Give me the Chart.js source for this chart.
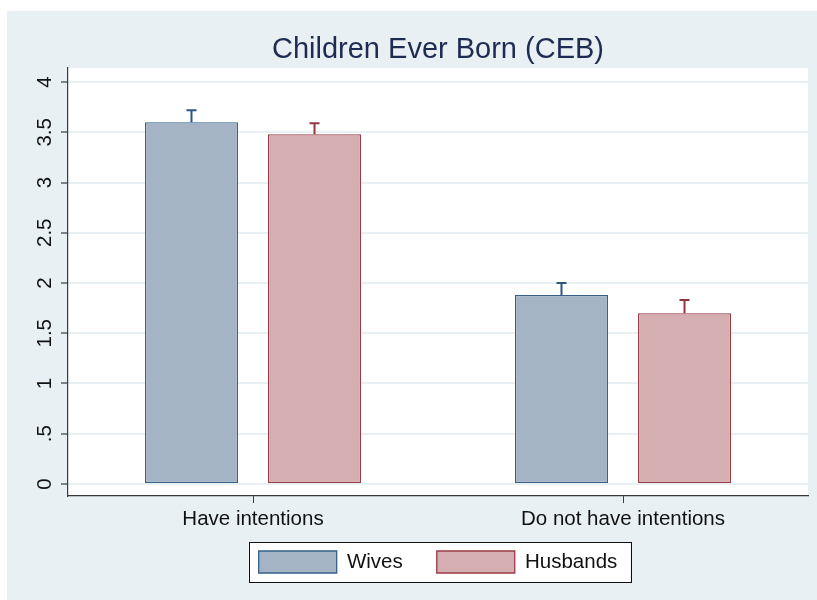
<!DOCTYPE html>
<html>
<head>
<meta charset="utf-8">
<title>Children Ever Born (CEB)</title>
<script src="https://cdn.jsdelivr.net/npm/chart.js@4/dist/chart.umd.min.js"></script>
<style>
  html, body { margin: 0; padding: 0; background: #ffffff; overflow: hidden; }
  #panel { position: absolute; left: 7px; top: 11px; width: 810px; height: 589px; background: #e9f0f3; }
  #chart { display: block; }
</style>
</head>
<body>
<div id="panel"><canvas id="chart" width="810" height="589"></canvas></div>
<script>
// Categories and series
const categories = ['Have intentions', 'Do not have intentions'];
const seriesNames = ['Wives', 'Husbands'];
const wivesCEB = [3.60, 1.88];
const husbandsCEB = [3.48, 1.70];
// Upper end of the confidence interval for each bar
const wivesUpper = [3.72, 2.00];
const husbandsUpper = [3.59, 1.83];
// Y axis tick values and their labels
const yTickValues = [0, 0.5, 1, 1.5, 2, 2.5, 3, 3.5, 4];
const yTickLabels = ['0', '.5', '1', '1.5', '2', '2.5', '3', '3.5', '4'];

const FONT = '"Liberation Sans", Arial, Helvetica, sans-serif';
const AXIS_DARK = '#3a3a3a';
const GRID_LIGHT = '#e9f0f3';

// White plot region behind the bars
const plotBackground = {
  id: 'plotBackground',
  beforeDraw(chart) {
    const a = chart.chartArea, ctx = chart.ctx;
    ctx.save();
    ctx.fillStyle = '#ffffff';
    ctx.fillRect(a.left, a.top, a.right - a.left, a.bottom - a.top);
    ctx.restore();
  }
};

// Upper error bars with a small cap
const errorBars = {
  id: 'errorBars',
  afterDatasetsDraw(chart) {
    const ctx = chart.ctx, y = chart.scales.y;
    chart.data.datasets.forEach((ds, i) => {
      const meta = chart.getDatasetMeta(i);
      meta.data.forEach((bar, j) => {
        const top = y.getPixelForValue(ds.upper[j]);
        ctx.save();
        ctx.strokeStyle = ds.errorColor;
        ctx.lineWidth = 2;
        ctx.beginPath();
        ctx.moveTo(bar.x, bar.y);
        ctx.lineTo(bar.x, top);
        ctx.moveTo(bar.x - 5, top);
        ctx.lineTo(bar.x + 5, top);
        ctx.stroke();
        ctx.restore();
      });
    });
  }
};

// Frame around the legend items
const legendFrame = {
  id: 'legendFrame',
  afterDraw(chart) {
    const boxes = chart.legend && chart.legend.legendHitBoxes;
    if (!boxes || !boxes.length) return;
    const first = boxes[0], last = boxes[boxes.length - 1];
    const left = first.left - 10, top = first.top - 9;
    const right = last.left + last.width + 13, bottom = first.top + first.height + 9;
    const ctx = chart.ctx;
    ctx.save();
    ctx.fillStyle = '#ffffff';
    ctx.globalCompositeOperation = 'destination-over';
    ctx.fillRect(left, top, right - left, bottom - top);
    ctx.globalCompositeOperation = 'source-over';
    ctx.strokeStyle = '#111111';
    ctx.lineWidth = 1;
    ctx.strokeRect(Math.round(left) + 0.5, Math.round(top) + 0.5, Math.round(right - left), Math.round(bottom - top));
    ctx.restore();
  }
};

new Chart(document.getElementById('chart'), {
  type: 'bar',
  data: {
    labels: categories,
    datasets: [
      {
        label: seriesNames[0],
        data: wivesCEB,
        upper: wivesUpper,
        backgroundColor: '#a4b4c4',
        borderColor: '#36608a',
        errorColor: '#2d5683',
        borderWidth: 1.3,
        borderSkipped: false
      },
      {
        label: seriesNames[1],
        data: husbandsCEB,
        upper: husbandsUpper,
        backgroundColor: '#d4aeb1',
        borderColor: '#9a3c46',
        errorColor: '#943540',
        borderWidth: 1.3,
        borderSkipped: false
      }
    ]
  },
  options: {
    responsive: false,
    animation: false,
    devicePixelRatio: 1,
    categoryPercentage: 0.665,
    barPercentage: 0.756,
    layout: { padding: { left: 0, right: 9, top: 0, bottom: 17 } },
    scales: {
      x: {
        afterFit(s) { s.height = 40; },
        grid: {
          display: true, drawOnChartArea: false, drawTicks: true,
          tickLength: 7, tickColor: AXIS_DARK, offset: false
        },
        border: { display: true, color: AXIS_DARK, width: 1.2 },
        ticks: { color: '#111111', font: { family: FONT, size: 20.5 }, padding: 4, maxRotation: 0 }
      },
      y: {
        min: -0.12,
        max: 4.14,
        afterFit(s) { s.width = 61; },
        afterBuildTicks(s) { s.ticks = yTickValues.map(v => ({ value: v })); },
        grid: {
          color: GRID_LIGHT, lineWidth: 2,
          drawTicks: true, tickLength: 7, tickColor: AXIS_DARK, tickWidth: 1.2
        },
        border: { display: true, color: AXIS_DARK, width: 1.2 },
        ticks: {
          color: '#111111',
          font: { family: FONT, size: 20.5 },
          minRotation: 90, maxRotation: 90,
          crossAlign: 'center',
          padding: 1,
          callback(value) {
            const k = yTickValues.indexOf(value);
            return k >= 0 ? yTickLabels[k] : '';
          }
        }
      }
    },
    plugins: {
      title: {
        display: true,
        fullSize: false,
        text: 'Children Ever Born (CEB)',
        color: '#1e2c53',
        font: { family: FONT, size: 29, weight: 'normal' },
        padding: { top: 22, bottom: 0.2 }
      },
      legend: {
        position: 'bottom',
        fullSize: false,
        // an empty legend title with negative padding pulls the row up
        title: { display: true, text: '', font: { size: 1 }, padding: { top: -20.2, bottom: 0 } },
        labels: {
          boxWidth: 78,
          boxHeight: 22,
          padding: 34,
          color: '#111111',
          font: { family: FONT, size: 20.5 }
        }
      },
      tooltip: { enabled: false }
    }
  },
  plugins: [plotBackground, errorBars, legendFrame]
});
</script>
</body>
</html>
